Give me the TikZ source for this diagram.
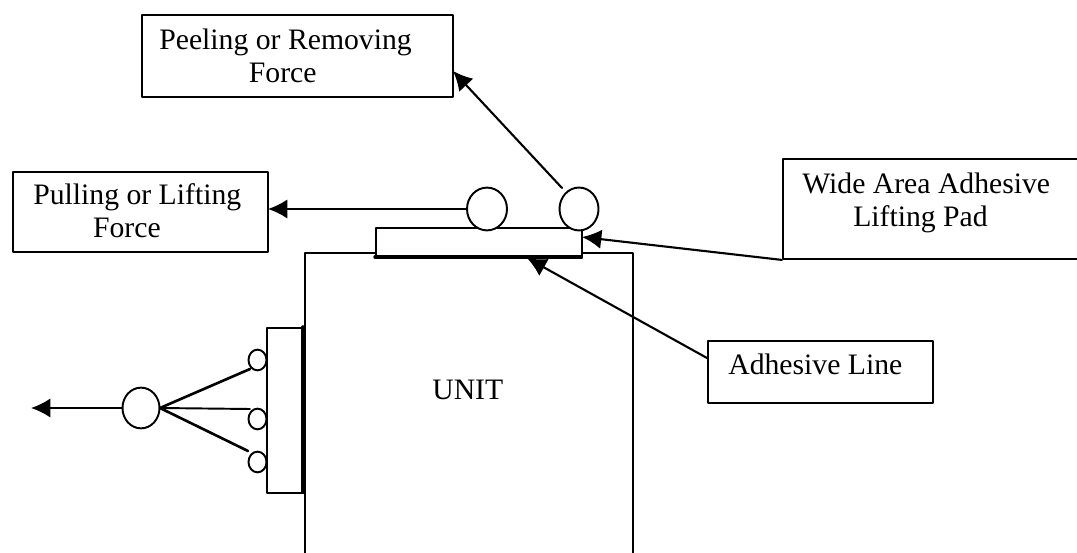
\documentclass[tikz,border=0pt]{standalone}
\usepackage{fontspec}
\setmainfont{Liberation Serif}
\usetikzlibrary{arrows.meta}
\begin{document}
\begin{tikzpicture}[x=0.02cm, y=-0.02cm, font=\fontsize{16.9pt}{19.3pt}\selectfont, line join=round, line cap=round,
    lbl/.style={draw, line width=1.1pt, inner sep=0pt, anchor=north west},
    txt/.style={align=left, inner sep=0pt, anchor=base west},
    ring/.style={draw, line width=1.1pt, circle, inner sep=0pt, fill=white},
    force/.style={-{Latex[length=11pt, width=11pt]}, line width=1.2pt}]
    \useasboundingbox (0,0) rectangle (1077,553);
    % unit and pad
    \draw[line width=1.1pt] (305,553)--(305,253)--(633,253)--(633,553);
    \node[lbl, fill=white, minimum width=206*0.02cm, minimum height=30*0.02cm] (pad) at (375,227) {};
    \draw[line width=2pt] (375,257)--(581,257);
    \node[lbl, fill=white, minimum width=37*0.02cm, minimum height=165*0.02cm] (grip) at (266,327) {};
    \draw[line width=2pt] (303,327)--(303,492);
    \node[txt] (unit) at (432,399) {UNIT};
    % labels
    \node[lbl, minimum width=311*0.02cm, minimum height=82*0.02cm] (peel) at (141,14) {};
    \node[txt] (peeltxt) at (159,83) {Peeling or Removing\\\hspace*{51pt}Force};
    \node[lbl, minimum width=255*0.02cm, minimum height=80*0.02cm] (pull) at (12,171) {};
    \node[txt] (pulltxt) at (33,238) {Pulling or Lifting\\\hspace*{34pt}Force};
    \node[lbl, minimum width=297*0.02cm, minimum height=100*0.02cm] (wide) at (782,158) {};
    \node[txt] (widetxt) at (802,227) {Wide Area Adhesive\\\hspace*{29pt}Lifting Pad};
    \node[lbl, minimum width=225*0.02cm, minimum height=62*0.02cm] (line) at (707,340) {};
    \node[txt] (linetxt) at (728,375) {Adhesive Line};
    % rings
    \node[ring, minimum size=40*0.02cm, yscale=1.07] (r1) at (487,209) {};
    \node[ring, minimum size=39*0.02cm, yscale=1.1] (r2) at (579,209) {};
    \node[ring, minimum size=37*0.02cm, yscale=1.1] (r3) at (141,408) {};
    \coordinate (c1) at (250,369);
    \coordinate (c2) at (250,409);
    \coordinate (c3) at (248,451);
    % connectors
    \coordinate (tipa) at (268,209);
    \coordinate (tipb) at (453,71);
    \coordinate (tipc) at (582,237);
    \coordinate (tipd) at (527,258);
    \coordinate (tipe) at (31,408);
    \coordinate (peelb) at (562,188);
    \coordinate (lineb) at (707,358);
    \coordinate (fan) at (160,408);
    \draw[force] (r1)--(tipa);
    \draw[force] (peelb)--(tipb);
    \draw[force] (wide.south west)--(tipc);
    \draw[force] (lineb)--(tipd);
    \draw[force] (r3)--(tipe);
    \draw[line width=1.5pt] (fan)--(c1);
    \draw[line width=1.1pt] (fan)--(c2);
    \draw[line width=1.5pt] (fan)--(c3);
    \node[ring, minimum size=18*0.02cm, yscale=1.15] (n1) at (257.5,360) {};
    \node[ring, minimum size=18*0.02cm, yscale=1.15] (n2) at (257.5,419) {};
    \node[ring, minimum size=18*0.02cm, yscale=1.15] (n3) at (257.5,462) {};
\end{tikzpicture}
\end{document}
